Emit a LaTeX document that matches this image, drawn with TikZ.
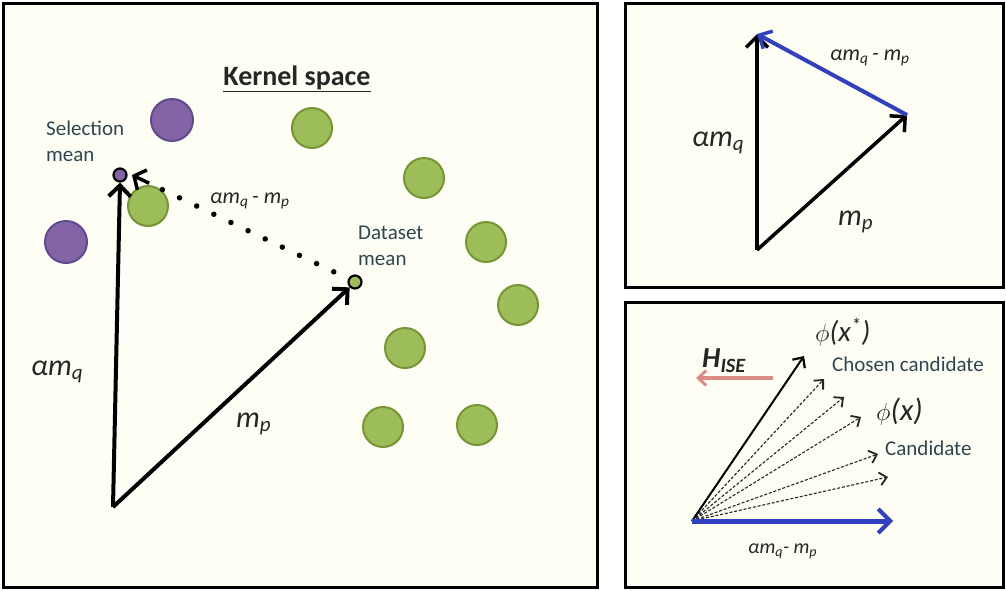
\documentclass[tikz,border=0pt]{standalone}
\usepackage{fontspec}
\setmainfont{Carlito}
\usetikzlibrary{arrows.meta,calc}
\definecolor{cream}{HTML}{FFFEF4}
\definecolor{gfill}{HTML}{9DBD58}
\definecolor{gedge}{HTML}{769636}
\definecolor{pfill}{HTML}{8464A6}
\definecolor{pedge}{HTML}{5E4A8E}
\definecolor{labcol}{HTML}{2E4652}
\definecolor{vblue}{HTML}{3040C0}
\definecolor{hred}{HTML}{DC8C86}
\tikzset{
  panel/.style={draw=black, line width=3pt, fill=cream},
  gdot/.style={circle, fill=gfill, draw=gedge, line width=2pt, minimum size=40pt, inner sep=0pt},
  pdot/.style={circle, fill=pfill, draw=pedge, line width=2pt, minimum size=42pt, inner sep=0pt},
  smalldot/.style={circle, draw=black, line width=2.2pt, minimum size=13pt, inner sep=0pt},
  vec/.style={line width=4pt, -{Straight Barb[length=11pt,width=22pt]}},
  dotline/.style={line width=5.5pt, line cap=round, dash pattern=on 0pt off 19pt},
  dothead/.style={line width=3.5pt, -{Straight Barb[length=9pt,width=22pt]}},
  thinvec/.style={line width=2pt, -{Straight Barb[length=8pt,width=15pt,line width=2.2pt]}},
  dashvec/.style={draw=black!85, line width=1.1pt, dash pattern=on 3pt off 1.8pt, -{Straight Barb[length=7pt,width=13pt,line width=1.8pt]}},
  bluevec/.style={draw=vblue, line width=5pt, -{Straight Barb[length=12pt,width=24pt,line width=4pt]}},
  redvec/.style={draw=hred, line width=4.5pt, -{Straight Barb[length=8pt,width=15pt,line width=3pt]}},
  lab/.style={text=labcol, font=\fontsize{21}{26}\selectfont, align=left, inner sep=0pt},
  vlab/.style={text=black!85, font=\itshape\fontsize{30}{32}\selectfont, inner sep=0pt},
  slab/.style={text=black!85, font=\itshape\fontsize{22}{24}\selectfont, inner sep=0pt},
}
\begin{document}
\begin{tikzpicture}[x=1pt,y=-1pt]
\useasboundingbox (0,0) rectangle (1006,590);
\fill[white] (0,0) rectangle (1006,590);
% panels
\path[panel] (3,3) rectangle (597,587);
\path[panel] (625,3) rectangle (1003,287);
\path[panel] (625,302) rectangle (1003,587);

% ---------- left panel ----------
\node[font=\bfseries\fontsize{28}{30}\selectfont, text=black!85] (title) at (297,79) {\underline{Kernel space}};

\node[pdot] (p1) at (172,120) {};
\node[pdot] (p2) at (66,242) {};
\node[gdot] (g1) at (312,128) {};
\node[gdot] (g2) at (424,178) {};
\node[gdot] (g3) at (486,242) {};
\node[gdot] (g4) at (518,305) {};
\node[gdot] (g5) at (405,348) {};
\node[gdot] (g6) at (383,427) {};
\node[gdot] (g7) at (477,425) {};
\node[gdot] (g8) at (148,206) {};

\node[smalldot, fill=pfill] (sel) at (120,175) {};
\node[smalldot, fill=gfill] (dm) at (355,282) {};
\coordinate (O) at (113,507);
\coordinate (dtip) at (132,175);

\draw[vec] (O) -- (sel.south);
\draw[vec] (O) -- (dm.south west);
\draw[dotline, shorten <=16pt, shorten >=22pt] (dm) -- (dtip);
\draw[dothead] ($(dtip)!19pt!(dm)$) -- (dtip);

\node[lab, anchor=west] (seltxt) at (46,141) {Selection\\mean};
\node[lab, anchor=west] (dstxt) at (358,246) {Dataset\\mean};
\node[vlab, anchor=west] (amq) at (31,372) {αm\textsubscript{q}};
\node[vlab, anchor=west] (mp) at (236,424) {m\textsubscript{p}};
\node[slab, anchor=west] (diff1) at (210,201) {αm\textsubscript{q}\,- m\textsubscript{p}};

% ---------- top-right panel ----------
\coordinate (O2) at (757,250);
\coordinate (A2) at (757,34);
\coordinate (B2) at (907,115);
\draw[vec, line width=3.5pt] (O2) -- (A2);
\draw[vec, line width=3.5pt] (O2) -- (B2);
\draw[bluevec, line width=4pt, -{Straight Barb[length=10pt,width=20pt,line width=3.5pt]}] (B2) -- (A2);
\node[vlab, anchor=west] (amq2) at (692,143) {αm\textsubscript{q}};
\node[vlab, anchor=west] (mp2) at (838,222) {m\textsubscript{p}};
\node[slab, anchor=west] (diff2) at (830,58) {αm\textsubscript{q}\,- m\textsubscript{p}};

% ---------- bottom-right panel ----------
\coordinate (O3) at (692,521);
\coordinate (T0) at (804,356);
\coordinate (T1) at (824,379);
\coordinate (T2) at (844,397);
\coordinate (T3) at (861,417);
\coordinate (T4) at (878,454);
\coordinate (T5) at (888,477);
\coordinate (TB) at (893,521);
\draw[dashvec] (O3) -- (T1);
\draw[dashvec] (O3) -- (T2);
\draw[dashvec] (O3) -- (T3);
\draw[dashvec] (O3) -- (T4);
\draw[dashvec] (O3) -- (T5);
\draw[thinvec] (O3) -- (T0);
\draw[bluevec] (O3) -- (TB);
\coordinate (H1) at (773,378);
\coordinate (H2) at (696,378);
\draw[redvec] (H1) -- (H2);
\node[text=black!85, font=\bfseries\itshape\fontsize{29}{30}\selectfont, inner sep=0pt, anchor=west] (hise) at (702,361) {H\textsubscript{ISE}};
\node[text=black!85, font=\fontsize{29}{30}\selectfont, inner sep=0pt, anchor=west] (phis) at (815,332) {$\phi$\textit{(x\textsuperscript{*})}};
\node[lab, anchor=west] (chosen) at (832,364) {Chosen candidate};
\node[text=black!85, font=\fontsize{31}{32}\selectfont, inner sep=0pt, anchor=west] (phi) at (876,412) {$\phi$\textit{(x)}};
\node[lab, anchor=west] (cand) at (885,448) {Candidate};
\node[slab, font=\itshape\fontsize{20}{24}\selectfont, anchor=west] (diff3) at (748,551) {αm\textsubscript{q}- m\textsubscript{p}};
\end{tikzpicture}
\end{document}
